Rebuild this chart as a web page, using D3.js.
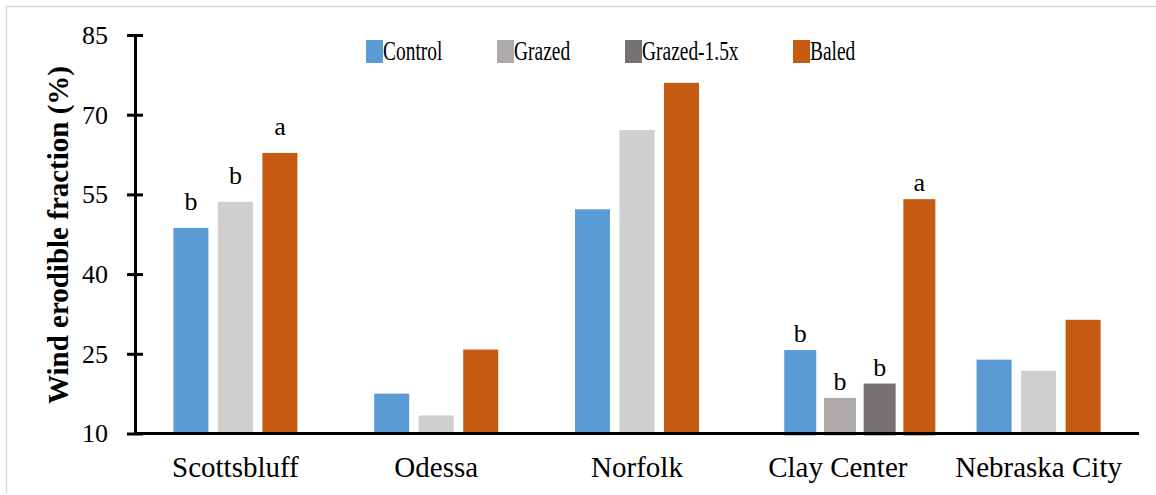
<!DOCTYPE html>
<html>
<head>
<meta charset="utf-8">
<script src="https://cdn.jsdelivr.net/npm/d3@7"></script>
</head>
<body style="margin:0; background:#fff">
<svg width="1156" height="495"></svg>
<script>
const sites = ["Scottsbluff", "Odessa", "Norfolk", "Clay Center", "Nebraska City"];
const seriesNames = ["Control", "Grazed", "Grazed-1.5x", "Baled"];
const control = [48.7, 17.5, 52.2, 25.7, 23.9];
const grazed = [53.6, 13.4, 67.1, 16.7, 21.8];
const grazed15 = [null, null, null, 19.4, null];
const baled = [62.8, 25.8, 76.0, 54.1, 31.4];
const letters = [
  ["b", "b", "", "a"],
  ["", "", "", ""],
  ["", "", "", ""],
  ["b", "b", "b", "a"],
  ["", "", "", ""]
];
const yTicks = [10, 25, 40, 55, 70, 85];

const colors = ["#5B9BD5", "#D0CECE", "#767171", "#C55A11"];
const legendColors = ["#5B9BD5", "#AEAAAA", "#767171", "#C55A11"];
const serif = "Times New Roman";

const svg = d3.select("svg");

// frame (only top and left edges are visible in the picture)
svg.append("line").attr("x1", 6).attr("x2", 1156).attr("y1", 6.5).attr("y2", 6.5)
  .attr("stroke", "#D9D9D9").attr("stroke-width", 1.5);
svg.append("line").attr("x1", 6.5).attr("x2", 6.5).attr("y1", 6).attr("y2", 493)
  .attr("stroke", "#D9D9D9").attr("stroke-width", 1.5);

const xScale = d3.scaleBand().domain(sites).range([135, 1139]);
const yScale = d3.scaleLinear().domain([10, 85]).range([433.5, 35]);

const allSeries = [control, grazed, grazed15, baled];

// bars per site, only the series that are present, centred in the group
const bars = [];
sites.forEach((site, i) => {
  const present = allSeries
    .map((s, k) => ({ k, v: s[i] }))
    .filter((d) => d.v != null);
  const isClay = site === "Clay Center";
  const barW = isClay ? 32 : 35;
  const step = isClay ? 39.7 : 44.5;
  const shift = isClay ? 22 : 0;
  const center = xScale(site) + xScale.bandwidth() / 2 + shift;
  const start = center - ((present.length - 1) * step) / 2 - barW / 2;
  present.forEach((d, j) => {
    let fill = colors[d.k];
    if (isClay && d.k === 1) fill = "#AEAAAA";
    bars.push({
      site, k: d.k, v: d.v, x: start + j * step, w: barW, fill,
      letter: letters[i][d.k], isClay
    });
  });
});

svg.selectAll("rect.bar")
  .data(bars)
  .enter()
  .append("rect")
  .attr("class", "bar")
  .attr("x", (d) => d.x)
  .attr("y", (d) => yScale(d.v))
  .attr("width", (d) => d.w)
  .attr("height", (d) => yScale(10) - yScale(d.v) + (d.isClay ? 2 : 0))
  .attr("fill", (d) => d.fill);

svg.selectAll("text.letter")
  .data(bars.filter((d) => d.letter))
  .enter()
  .append("text")
  .attr("class", "letter")
  .attr("x", (d) => d.x + d.w / 2)
  .attr("y", (d) => yScale(d.v) - (d.isClay ? 8 : 18))
  .attr("text-anchor", "middle")
  .style("font-family", serif)
  .attr("font-size", 26)
  .text((d) => d.letter);

// y axis with ticks crossing the line
const yAxis = svg.append("g")
  .attr("transform", "translate(135,0)")
  .call(d3.axisLeft(yScale).tickValues(yTicks).tickSize(8).tickPadding(19).tickSizeOuter(0));
yAxis.attr("font-family", null);
yAxis.select(".domain").attr("stroke", "#000").attr("stroke-width", 3);
yAxis.selectAll(".tick line").attr("x1", 8).attr("stroke", "#000").attr("stroke-width", 3);
yAxis.selectAll(".tick text")
  .attr("font-size", 26)
  .style("font-family", serif)
  .attr("fill", "#000");

// x axis line
svg.append("line")
  .attr("x1", 135).attr("x2", 1139)
  .attr("y1", yScale(10)).attr("y2", yScale(10))
  .attr("stroke", "#000").attr("stroke-width", 3);

svg.selectAll("text.cat")
  .data(sites)
  .enter()
  .append("text")
  .attr("class", "cat")
  .attr("x", (d) => xScale(d) + xScale.bandwidth() / 2)
  .attr("y", 477)
  .attr("text-anchor", "middle")
  .style("font-family", serif)
  .attr("font-size", 29)
  .text((d) => d);

// y title
svg.append("text")
  .attr("transform", "translate(68,235) rotate(-90)")
  .attr("text-anchor", "middle")
  .style("font-family", serif)
  .attr("font-size", 29)
  .attr("font-weight", "bold")
  .text("Wind erodible fraction (%)");

// legend
const legendX = [366, 497, 625, 793];
const legend = svg.selectAll("g.leg")
  .data(seriesNames)
  .enter()
  .append("g")
  .attr("class", "leg")
  .attr("transform", (d, i) => `translate(${legendX[i]},40)`);
legend.append("rect")
  .attr("width", 17).attr("height", 23)
  .attr("fill", (d, i) => legendColors[i]);
legend.append("text")
  .attr("transform", "translate(17,20) scale(0.72,1)")
  .style("font-family", serif)
  .attr("font-size", 27)
  .text((d) => d);
</script>
</body>
</html>
